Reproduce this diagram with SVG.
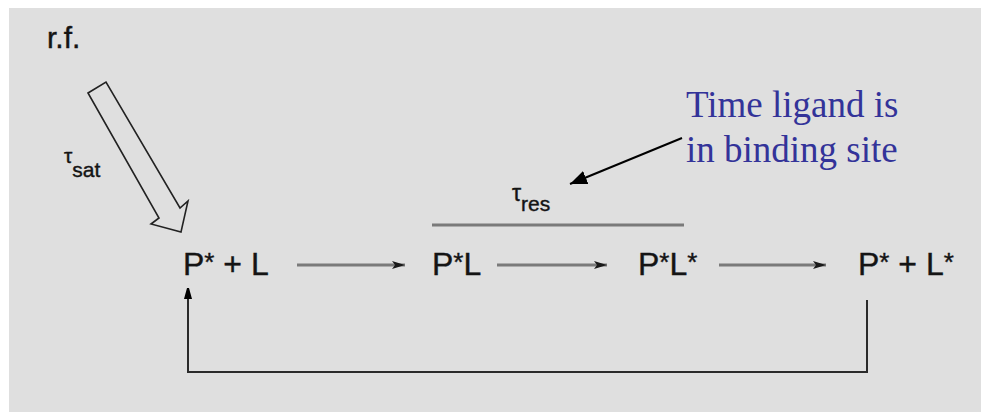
<svg xmlns="http://www.w3.org/2000/svg" width="981" height="412" viewBox="0 0 981 412">
  <style>
    .lbl { font-family: "Liberation Sans", Arial, sans-serif; fill: #141414; stroke: #141414; stroke-width: 0.4; }
    .species { font-size: 32px; }
    .star { font-size: 26px; }
    .note { font-family: "Liberation Serif", "Times New Roman", serif; font-size: 37px; fill: #333399; }
    .step { stroke: #7a7a7a; stroke-width: 3; fill: none; }
    .loop { stroke: #2a2a2a; stroke-width: 2; fill: none; }
  </style>
  <defs>
    <marker id="stepHead" markerWidth="14" markerHeight="10" refX="13" refY="5" orient="auto" markerUnits="userSpaceOnUse">
      <path d="M0,1 L13,5 L0,9 L3,5 Z" fill="#1a1a1a"/>
    </marker>
    <marker id="blackHead" markerWidth="18" markerHeight="14" refX="17" refY="7" orient="auto" markerUnits="userSpaceOnUse">
      <path d="M0,0 L17,7 L0,14 Z" fill="#000"/>
    </marker>
    <marker id="loopHead" markerWidth="12" markerHeight="12" refX="11" refY="6" orient="auto" markerUnits="userSpaceOnUse">
      <path d="M0,2 L11,5 L11,7 L0,10 Z" fill="#000"/>
    </marker>
  </defs>

  <!-- panel background -->
  <rect x="0" y="0" width="981" height="412" fill="#ffffff"/>
  <rect x="9" y="8" width="972" height="404" fill="#dfdfdf"/>

  <!-- radio-frequency pulse -->
  <g id="rf">
    <text class="lbl" x="47" y="48" font-size="30">r.f.</text>
    <polygon points="88,93 106,82 180,208 188,201 181,232 151,224 159,218" fill="none" stroke="#222" stroke-width="1.6" stroke-linejoin="miter"/>
    <text class="lbl" x="64" y="163" font-size="21">τ<tspan font-size="21" dy="14">sat</tspan></text>
  </g>

  <!-- species -->
  <g id="free">
    <text class="lbl species" x="183" y="275">P<tspan class="star" dy="-4">*</tspan><tspan dy="4"> + L</tspan></text>
  </g>
  <g id="bound">
    <text class="lbl species" x="432" y="275">P<tspan class="star" dy="-4">*</tspan><tspan dy="4">L</tspan></text>
  </g>
  <g id="bound-saturated">
    <text class="lbl species" x="638" y="275">P<tspan class="star" dy="-4">*</tspan><tspan dy="4">L</tspan><tspan class="star" dy="-4">*</tspan></text>
  </g>
  <g id="released">
    <text class="lbl species" x="858" y="275">P<tspan class="star" dy="-4">*</tspan><tspan dy="4"> + L</tspan><tspan class="star" dy="-4">*</tspan></text>
  </g>

  <!-- residence time bar -->
  <g id="residence">
    <line x1="432" y1="225" x2="684" y2="225" stroke="#7a7a7a" stroke-width="3"/>
    <text class="lbl" x="512" y="201" font-size="23">τ<tspan font-size="21" dy="10">res</tspan></text>
  </g>

  <!-- annotation -->
  <g id="note">
    <text class="note" x="686" y="117">Time ligand is</text>
    <text class="note" x="686" y="162">in binding site</text>
  </g>

  <!-- connectors -->
  <g id="connectors">
    <line class="step" x1="297" y1="265" x2="405" y2="265" marker-end="url(#stepHead)"/>
    <line class="step" x1="497" y1="265" x2="607" y2="265" marker-end="url(#stepHead)"/>
    <line class="step" x1="719" y1="265" x2="826" y2="265" marker-end="url(#stepHead)"/>
    <line x1="682" y1="138" x2="570" y2="184" stroke="#000" stroke-width="2" marker-end="url(#blackHead)"/>
    <path class="loop" d="M867,300 V372 H188 V288" marker-end="url(#loopHead)"/>
  </g>
</svg>
